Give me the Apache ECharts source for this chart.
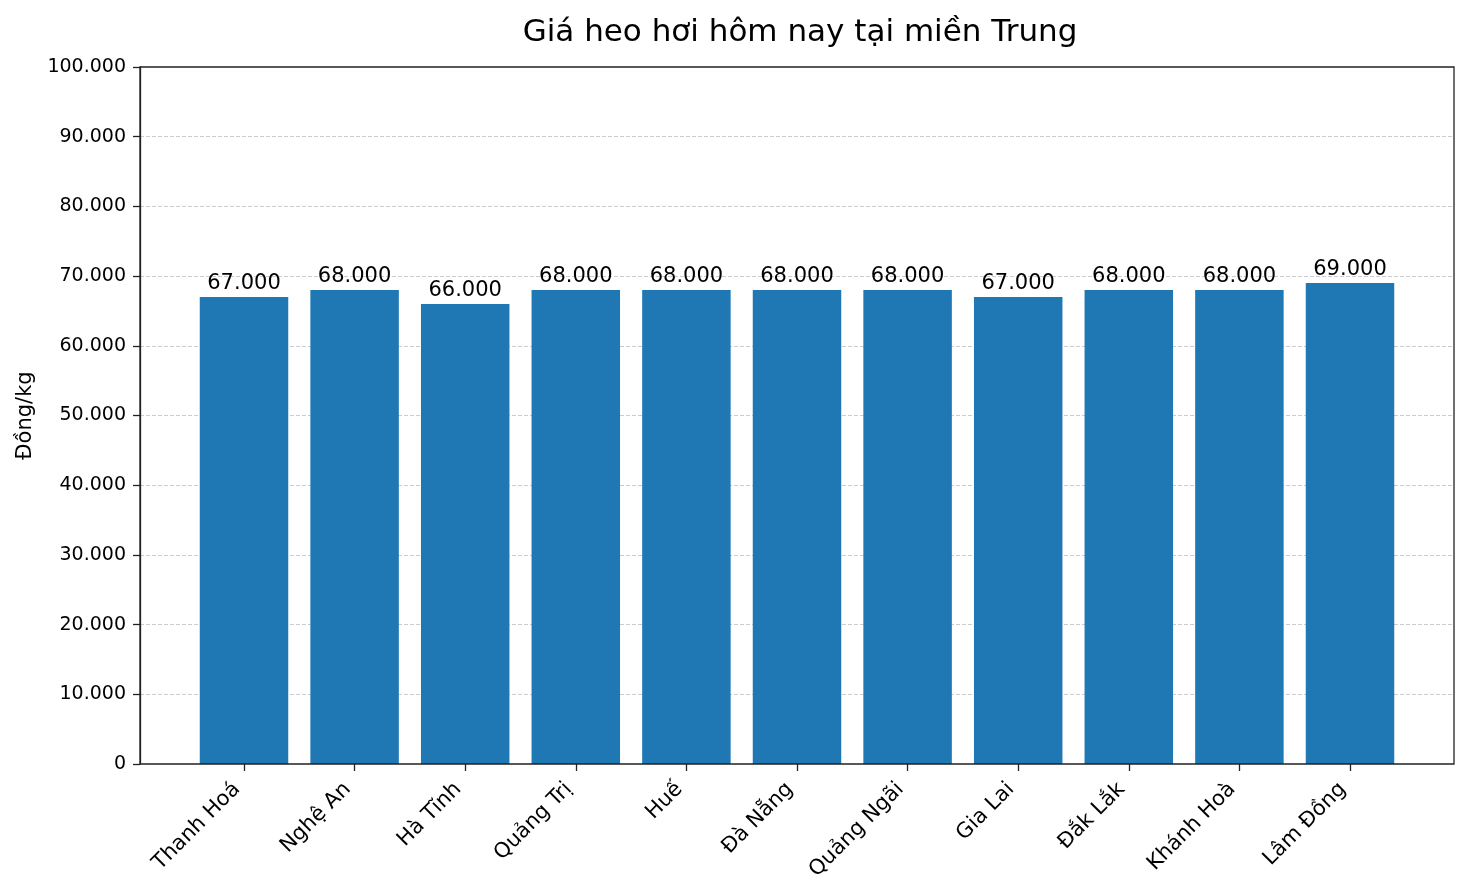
<!DOCTYPE html>
<html><head><meta charset="utf-8">
<script src="https://cdn.jsdelivr.net/npm/echarts@6/dist/echarts.min.js"></script>
<style>html,body{margin:0;padding:0;background:#fff}#c{width:1468px;height:896px}</style>
</head><body><div id="c"></div>
<script>
const categories = ['Thanh Hoá','Nghệ An','Hà Tĩnh','Quảng Trị','Huế','Đà Nẵng','Quảng Ngãi','Gia Lai','Đắk Lắk','Khánh Hoà','Lâm Đồng'];
const prices = [67000, 68000, 66000, 68000, 68000, 68000, 68000, 67000, 68000, 68000, 69000];
const yMin = 0, yMax = 100000, yStep = 10000;
const titleText = 'Giá heo hơi hôm nay tại miền Trung';
const yName = 'Đồng/kg';

const FONT = 'DejaVu Sans';
function fmt(v){ return String(Math.round(v)).replace(/\B(?=(\d{3})+(?!\d))/g, '.'); }

const chart = echarts.init(document.getElementById('c'), null, {renderer:'canvas'});
chart.setOption({
  animation:false,
  textStyle:{fontFamily:FONT},
  title:{text:titleText,left:795,textAlign:'center',top:12,textStyle:{fontFamily:FONT,fontSize:31,fontWeight:'normal',color:'#000'}},
  grid:[
    {left:140,right:14,top:67,bottom:132,show:true,borderColor:'#222',borderWidth:1.3,backgroundColor:'transparent',z:5},
    {left:188.7,right:62.7,top:67,bottom:132}
  ],
  xAxis:[
    {gridIndex:0,type:'value',min:0,max:1,show:false},
    {gridIndex:1,type:'category',data:categories,
     axisLine:{show:false},
     axisTick:{show:true,alignWithLabel:true,length:7,lineStyle:{color:'#222',width:1.3}},
     axisLabel:{rotate:45,fontFamily:FONT,fontSize:21,color:'#000',margin:15,padding:[0,10,0,0],interval:0}}
  ],
  yAxis:[
    {gridIndex:0,type:'value',min:yMin,max:yMax,interval:yStep,
     name:yName,nameLocation:'middle',nameGap:101,nameRotate:90,
     nameTextStyle:{fontFamily:FONT,fontSize:21,color:'#000'},
     axisLine:{show:true,lineStyle:{color:'#222',width:1.3}},
     axisTick:{show:true,length:7,lineStyle:{color:'#222',width:1.3}},
     axisLabel:{fontFamily:FONT,fontSize:19,color:'#000',margin:14,formatter:fmt},
     splitLine:{show:true,showMinLine:false,showMaxLine:false,lineStyle:{color:'#cccccc',type:[4,2],width:1}}},
    {gridIndex:1,type:'value',min:yMin,max:yMax,interval:yStep,show:false,splitLine:{show:false}}
  ],
  series:[{
    type:'bar',xAxisIndex:1,yAxisIndex:1,data:prices,barWidth:'80%',
    itemStyle:{color:'#1f77b4'},
    label:{show:true,position:'top',distance:3,fontFamily:FONT,fontSize:21,color:'#000',formatter:p=>fmt(p.value)}
  }]
});
</script></body></html>
